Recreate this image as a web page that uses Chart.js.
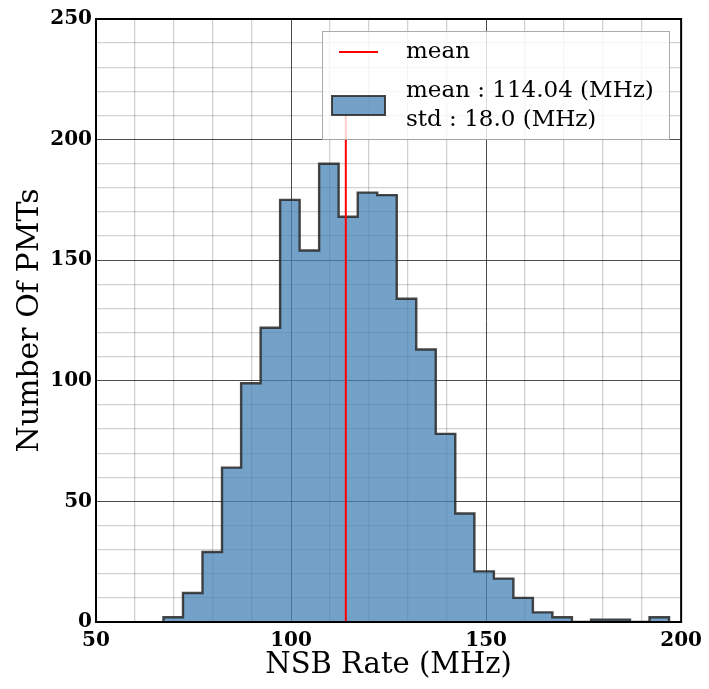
<!DOCTYPE html>
<html>
<head>
<meta charset="utf-8">
<script src="https://cdn.jsdelivr.net/npm/chart.js@4.4.1/dist/chart.umd.min.js"></script>
<style>
  html, body { margin: 0; padding: 0; background: #fff; }
  #wrap { width: 709px; height: 689px; }
</style>
</head>
<body>
<div id="wrap"><canvas id="hist" width="709" height="689"></canvas></div>
<script>
// histogram of NSB rates
const binEdges = [67.3, 72.3, 77.3, 82.3, 87.2, 92.2, 97.2, 102.2, 107.2, 112.2, 117.1, 122.1, 127.1,
                  132.1, 137.1, 142.1, 147.0, 152.0, 157.0, 162.0, 167.0, 172.0, 176.9, 181.9, 186.9, 191.9, 196.9]
const counts = [2, 12, 29, 64, 99, 122, 175, 154, 190, 168, 178, 177, 134,
                113, 78, 45, 21, 18, 10, 4, 2, 0, 1, 1, 0, 2]
const meanRate = 114.04
const stdRate = 18.0
const meanLineTop = 210
const xLabelTicks = [50, 100, 150, 200]
const yLabelTicks = [0, 50, 100, 150, 200, 250]

const SERIF = "'DejaVu Serif', 'Liberation Serif', serif"
const barFill = "rgba(70,130,180,0.75)"
const barEdge = "rgba(40,40,40,0.85)"

// stepfilled outline: start on the floor, one point per bin, back down at the last edge
const stepPoints = [{ x: binEdges[0], y: 0 }]
counts.forEach((c, i) => stepPoints.push({ x: binEdges[i], y: c }))
stepPoints.push({ x: binEdges[binEdges.length - 1], y: 0 })

// grid sits over the bars, so it is a translucent black
const gridColor = (ctx, majors) => majors.includes(ctx.tick.value) ? "rgba(0,0,0,0.7)" : "rgba(0,0,0,0.18)"
const gridWidth = (ctx, majors) => majors.includes(ctx.tick.value) ? 1 : 1.3

const frame = {
  id: "frame",
  afterDraw(chart) {
    const { ctx, chartArea: a } = chart
    ctx.save()
    ctx.strokeStyle = "#000"
    ctx.lineWidth = 2
    ctx.strokeRect(a.left, a.top, a.right - a.left, a.bottom - a.top)
    ctx.restore()
  }
}

const legendBox = {
  id: "legendBox",
  afterDraw(chart) {
    const { ctx } = chart
    ctx.save()
    ctx.fillStyle = "rgba(255,255,255,0.8)"
    ctx.fillRect(322, 31, 348, 109)
    ctx.strokeStyle = "rgba(150,150,150,0.8)"
    ctx.lineWidth = 1
    ctx.strokeRect(322.5, 31.5, 347, 108)

    ctx.strokeStyle = "red"
    ctx.lineWidth = 2
    ctx.beginPath(); ctx.moveTo(339, 52); ctx.lineTo(378, 52); ctx.stroke()

    ctx.fillStyle = barFill
    ctx.fillRect(332, 96, 53, 19)
    ctx.strokeStyle = barEdge
    ctx.lineWidth = 2
    ctx.strokeRect(332, 96, 53, 19)

    ctx.fillStyle = "#000"
    ctx.font = "23px " + SERIF
    ctx.textBaseline = "middle"
    ctx.fillText("mean", 406, 52)
    ctx.fillText("mean : " + meanRate.toFixed(2) + " (MHz)", 406, 91)
    ctx.fillText("std : " + stdRate.toFixed(1) + " (MHz)", 406, 120)
    ctx.restore()
  }
}

new Chart(document.getElementById("hist"), {
  type: "line",
  data: {
    datasets: [
      { label: "mean", data: [{ x: meanRate, y: 0 }, { x: meanRate, y: meanLineTop }],
        borderColor: "red", borderWidth: 2, pointRadius: 0, fill: false, order: 0 },
      { label: "hist", data: stepPoints, stepped: "before", fill: "origin",
        backgroundColor: barFill, borderColor: barEdge, borderWidth: 2.4, pointRadius: 0, order: 1 }
    ]
  },
  options: {
    responsive: false, animation: false,
    layout: { padding: { top: 19, right: 25, left: 0, bottom: 0 } },
    plugins: { legend: { display: false }, tooltip: { enabled: false } },
    scales: {
      x: {
        type: "linear", min: 50, max: 200, z: 1,
        afterFit: s => { s.height = 67 },
        border: { display: false },
        grid: { drawTicks: false, color: c => gridColor(c, xLabelTicks), lineWidth: c => gridWidth(c, xLabelTicks) },
        ticks: { stepSize: 10, autoSkip: false, maxRotation: 0, padding: 7, color: "#000",
                 font: { family: SERIF, size: 20, weight: "bold" },
                 callback: v => xLabelTicks.includes(v) ? String(v) : "" },
        title: { display: true, text: "NSB Rate (MHz)", color: "#000", padding: { top: 0, bottom: 6 },
                 font: { family: SERIF, size: 29 } }
      },
      y: {
        min: 0, max: 250, z: 1,
        afterFit: s => { s.width = 96 },
        border: { display: false },
        grid: { drawTicks: false, color: c => gridColor(c, yLabelTicks), lineWidth: c => gridWidth(c, yLabelTicks) },
        ticks: { stepSize: 10, autoSkip: false, padding: 4, color: "#000",
                 font: { family: SERIF, size: 20, weight: "bold" },
                 callback: v => yLabelTicks.includes(v) ? String(v) : "" },
        title: { display: true, text: "Number Of PMTs", color: "#000", padding: { top: 12, bottom: 0 },
                 font: { family: SERIF, size: 30 } }
      }
    }
  },
  plugins: [legendBox, frame]
})
</script>
</body>
</html>
